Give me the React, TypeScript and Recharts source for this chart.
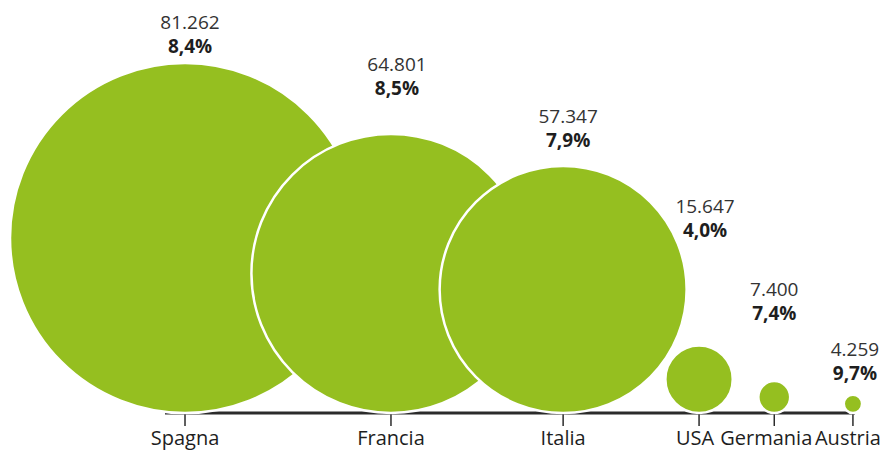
import { ScatterChart, Scatter, XAxis, YAxis, ZAxis, LabelList } from 'recharts';

const countries = ['Spagna', 'Francia', 'Italia', 'USA', 'Germania', 'Austria'];
const arrivals = [81262, 64801, 57347, 15647, 7400, 4259];
const growth = [8.4, 8.5, 7.9, 4.0, 7.4, 9.7];
// where each country sits along the baseline (axis runs 0..100)
const slots = [2.9, 32.75, 57.7, 77.4, 88.3, 99.7];

// label placement: gap above the bubble top, small horizontal nudge
const labelGap = [10, 39, 19, 109, 61, 15];
const labelDx = [5, 6, 5, 6, 0, 2];
// country names are nudged so the crowded right end doesn't collide
const tickDx = [0, 0, 0, -4, -8, -5];

const W = 887;
const H = 452;
const AXIS_H = 39;
const PLOT_H = H - AXIS_H;
const R_MAX = 175;
const GREEN = '#95bf20';

const maxVal = Math.max(...arrivals);
// y domain chosen so a bubble of radius r sits with its centre at height r
const yMax = (maxVal * PLOT_H) / R_MAX;

const rows = countries.map((name, i) => ({
  name,
  x: slots[i],
  value: arrivals[i],
  area: arrivals[i] * arrivals[i],
}));

const fmtValue = (v: number) => String(v).replace(/\B(?=(\d{3})+(?!\d))/g, '.');
const fmtPct = (v: number) => v.toFixed(1).replace('.', ',') + '%';

function BubbleLabel(props: any) {
  const vb = props.viewBox ?? props;
  const i = props.index;
  const cx = vb.x + vb.width / 2 + labelDx[i];
  const pctY = vb.y - labelGap[i];
  return (
    <g>
      <text x={cx} y={pctY - 24} textAnchor="middle" fontSize={19} fill="#333">
        {fmtValue(arrivals[i])}
      </text>
      <text x={cx} y={pctY} textAnchor="middle" fontSize={19} fontWeight={700} fill="#1e1e1e">
        {fmtPct(growth[i])}
      </text>
    </g>
  );
}

function CountryTick(props: any) {
  const { x, y, payload } = props;
  const i = slots.indexOf(payload.value);
  return (
    <text x={x + (tickDx[i] ?? 0)} y={y + 14} textAnchor="middle" fontSize={20} fill="#1e1e1e">
      {countries[i]}
    </text>
  );
}

export default function App() {
  return (
    <div>
      <style>{'body { margin: 0; }'}</style>
      <ScatterChart
        width={W}
        height={H}
        margin={{ top: 0, right: 32, bottom: 0, left: 165 }}
        style={{ fontFamily: '"Open Sans", sans-serif' }}
      >
        <XAxis
          type="number"
          dataKey="x"
          domain={[0, 100]}
          ticks={slots}
          interval={0}
          height={AXIS_H}
          axisLine={{ stroke: '#2b2b2b', strokeWidth: 3 }}
          tickLine={{ stroke: '#2b2b2b', strokeWidth: 1.5 }}
          tickSize={13}
          tickMargin={5}
          tick={<CountryTick />}
        />
        <YAxis type="number" dataKey="value" domain={[0, yMax]} hide />
        <ZAxis type="number" dataKey="area" domain={[0, maxVal * maxVal]} range={[0, Math.PI * R_MAX * R_MAX]} />
        <Scatter
          data={rows}
          fill={GREEN}
          stroke="#fff"
          strokeWidth={2.5}
          isAnimationActive={false}
        >
          <LabelList dataKey="value" content={BubbleLabel} />
        </Scatter>
      </ScatterChart>
    </div>
  );
}
